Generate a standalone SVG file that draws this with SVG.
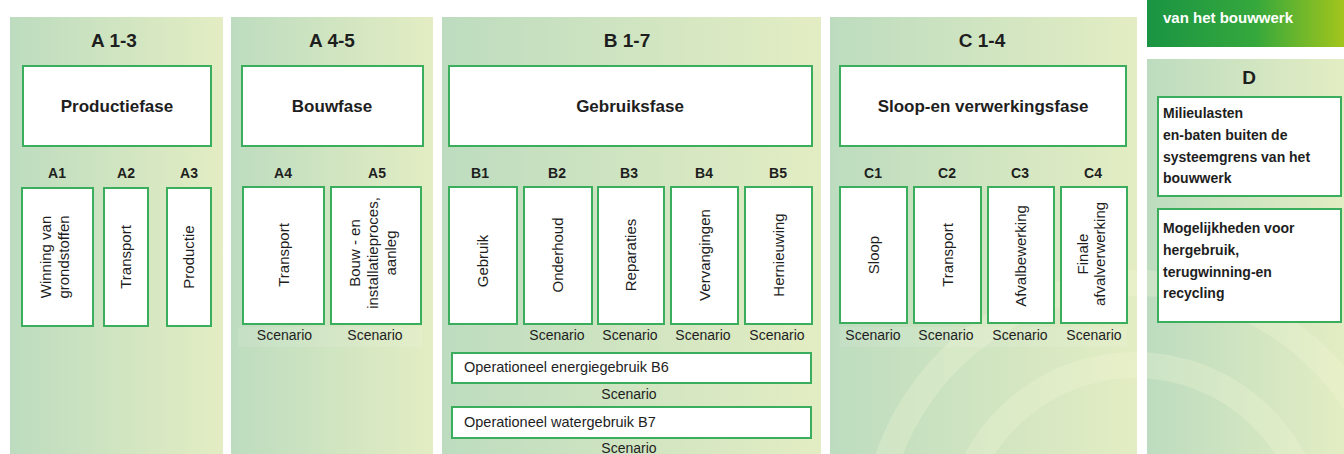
<svg xmlns="http://www.w3.org/2000/svg" width="1344" height="454" viewBox="0 0 1344 454">
<defs>
<linearGradient id="panel" x1="0" y1="0" x2="1" y2="0">
<stop offset="0" stop-color="#bddcbf"/>
<stop offset="1" stop-color="#e3edc3"/>
</linearGradient>
<linearGradient id="banner" x1="0" y1="0" x2="1" y2="0">
<stop offset="0" stop-color="#1a9443"/>
<stop offset="0.55" stop-color="#35a83c"/>
<stop offset="1" stop-color="#a3c51c"/>
</linearGradient>
<clipPath id="wm"><rect x="830" y="17" width="514" height="437"/></clipPath>
</defs>
<style>
.panel{fill:url(#panel)}
.box{fill:#ffffff;stroke:#3aae5c;stroke-width:2}
text{font-family:"Liberation Sans",Arial,sans-serif;fill:#1e1e1e}
.title{font-size:19px;font-weight:bold;text-anchor:middle}
.phase{font-size:17px;font-weight:bold;text-anchor:middle}
.code{font-size:14px;font-weight:bold;text-anchor:middle}
.vert{font-size:15px;text-anchor:middle}
.scen{font-size:14px;text-anchor:middle}
.oper{font-size:14.5px}
.dtext{font-size:14px;font-weight:bold}
.band{fill:#ffffff;opacity:0.1}
</style>

<rect width="1344" height="454" fill="#ffffff"/>

<!-- panels -->
<g id="panel-A13">
<rect class="panel" x="10" y="17" width="213" height="437"/>
<text class="title" x="114" y="47">A 1-3</text>
</g>
<g id="panel-A45">
<rect class="panel" x="231" y="17" width="202" height="437"/>
<text class="title" x="332" y="47">A 4-5</text>
</g>
<g id="panel-B17">
<rect class="panel" x="442" y="17" width="379" height="437"/>
<text class="title" x="627" y="47">B 1-7</text>
</g>
<g id="panel-C14">
<rect class="panel" x="830" y="17" width="307" height="437"/>
<text class="title" x="982" y="47">C 1-4</text>
</g>
<g id="panel-D">
<rect class="panel" x="1147" y="59" width="197" height="395"/>
<text class="title" x="1249" y="84">D</text>
</g>

<!-- faint watermark arcs -->
<g id="watermark" clip-path="url(#wm)" fill="none" stroke="#f4f7d8" stroke-opacity="0.28" stroke-width="26">
<rect x="1137" y="17" width="10" height="437" fill="#ffffff" stroke="none"/>
<circle cx="1135" cy="545" r="262"/>
<circle cx="1135" cy="545" r="180"/>
</g>
<rect x="1137" y="17" width="10" height="437" fill="#ffffff"/>

<!-- banner -->
<g id="banner-top">
<rect x="1147" y="0" width="197" height="47" fill="url(#banner)"/>
<text x="1163" y="23" style="font-size:15px;font-weight:bold;fill:#ffffff">van het bouwwerk</text>
</g>

<!-- faint scenario bands -->
<rect class="band" x="238" y="327" width="184" height="20"/>
<rect class="band" x="840" y="327" width="287" height="20"/>

<!-- phase boxes -->
<g id="productiefase">
<rect class="box" x="23" y="66" width="188" height="80"/>
<text class="phase" x="117" y="112">Productiefase</text>
</g>
<g id="bouwfase">
<rect class="box" x="242" y="66" width="181" height="80"/>
<text class="phase" x="332" y="112">Bouwfase</text>
</g>
<g id="gebruiksfase">
<rect class="box" x="449" y="66" width="363" height="80"/>
<text class="phase" x="630" y="112">Gebruiksfase</text>
</g>
<g id="sloopfase">
<rect class="box" x="840" y="66" width="286" height="80"/>
<text class="phase" x="983" y="112">Sloop-en verwerkingsfase</text>
</g>

<!-- A modules -->
<g id="A1">
<text class="code" x="57" y="178">A1</text>
<rect class="box" x="22" y="188" width="71" height="138"/>
<text class="vert" transform="translate(57.5 257) rotate(-90)"><tspan x="0" y="-7">Winning van</tspan><tspan x="0" y="11">grondstoffen</tspan></text>
</g>
<g id="A2">
<text class="code" x="126" y="178">A2</text>
<rect class="box" x="104" y="188" width="44" height="138"/>
<text class="vert" transform="translate(126 257) rotate(-90)" y="5">Transport</text>
</g>
<g id="A3">
<text class="code" x="189" y="178">A3</text>
<rect class="box" x="167" y="188" width="44" height="138"/>
<text class="vert" transform="translate(189 257) rotate(-90)" y="5">Productie</text>
</g>
<g id="A4">
<text class="code" x="283" y="178">A4</text>
<rect class="box" x="243" y="187" width="81" height="137"/>
<text class="vert" transform="translate(283.5 255) rotate(-90)" y="5">Transport</text>
<text class="scen" x="284.5" y="340">Scenario</text>
</g>
<g id="A5">
<text class="code" x="377" y="178">A5</text>
<rect class="box" x="331" y="187" width="90" height="137"/>
<text class="vert" transform="translate(376 253) rotate(-90)"><tspan x="0" y="-16">Bouw - en</tspan><tspan x="0" y="2">installatieproces,</tspan><tspan x="0" y="20">aanleg</tspan></text>
<text class="scen" x="375" y="340">Scenario</text>
</g>

<!-- B modules -->
<g id="B1">
<text class="code" x="480" y="178">B1</text>
<rect class="box" x="449" y="187" width="68" height="137"/>
<text class="vert" transform="translate(483 261) rotate(-90)" y="5">Gebruik</text>
</g>
<g id="B2">
<text class="code" x="557" y="178">B2</text>
<rect class="box" x="524" y="187" width="68" height="137"/>
<text class="vert" transform="translate(558 255) rotate(-90)" y="5">Onderhoud</text>
<text class="scen" x="557" y="340">Scenario</text>
</g>
<g id="B3">
<text class="code" x="629" y="178">B3</text>
<rect class="box" x="598" y="187" width="66" height="137"/>
<text class="vert" transform="translate(631 255) rotate(-90)" y="5">Reparaties</text>
<text class="scen" x="630" y="340">Scenario</text>
</g>
<g id="B4">
<text class="code" x="704" y="178">B4</text>
<rect class="box" x="671" y="187" width="67" height="137"/>
<text class="vert" transform="translate(704.5 255) rotate(-90)" y="5">Vervangingen</text>
<text class="scen" x="703" y="340">Scenario</text>
</g>
<g id="B5">
<text class="code" x="778" y="178">B5</text>
<rect class="box" x="745" y="187" width="67" height="137"/>
<text class="vert" transform="translate(778.5 255) rotate(-90)" y="5">Hernieuwing</text>
<text class="scen" x="777" y="340">Scenario</text>
</g>
<g id="B6">
<rect class="box" x="452" y="353" width="359" height="30"/>
<text class="oper" x="464" y="372">Operationeel energiegebruik B6</text>
<text class="scen" x="629" y="399">Scenario</text>
</g>
<g id="B7">
<rect class="box" x="452" y="407" width="359" height="31"/>
<text class="oper" x="464" y="427">Operationeel watergebruik B7</text>
<text class="scen" x="629" y="453">Scenario</text>
</g>

<!-- C modules -->
<g id="C1">
<text class="code" x="873" y="178">C1</text>
<rect class="box" x="840" y="187" width="67" height="136"/>
<text class="vert" transform="translate(873.5 255) rotate(-90)" y="5">Sloop</text>
<text class="scen" x="873" y="340">Scenario</text>
</g>
<g id="C2">
<text class="code" x="947" y="178">C2</text>
<rect class="box" x="914" y="187" width="67" height="136"/>
<text class="vert" transform="translate(947.5 255) rotate(-90)" y="5">Transport</text>
<text class="scen" x="946" y="340">Scenario</text>
</g>
<g id="C3">
<text class="code" x="1020" y="178">C3</text>
<rect class="box" x="988" y="187" width="66" height="136"/>
<text class="vert" transform="translate(1021 256) rotate(-90)" y="5">Afvalbewerking</text>
<text class="scen" x="1020" y="340">Scenario</text>
</g>
<g id="C4">
<text class="code" x="1093" y="178">C4</text>
<rect class="box" x="1061" y="187" width="66" height="136"/>
<text class="vert" transform="translate(1094 254) rotate(-90)"><tspan x="0" y="-6">Finale</tspan><tspan x="0" y="11">afvalverwerking</tspan></text>
<text class="scen" x="1094" y="340">Scenario</text>
</g>

<!-- D boxes -->
<g id="D-milieulasten">
<rect class="box" x="1158" y="97" width="183" height="99"/>
<text class="dtext"><tspan x="1163" y="118">Milieulasten</tspan><tspan x="1163" y="140">en-baten buiten de</tspan><tspan x="1163" y="161.5">systeemgrens van het</tspan><tspan x="1163" y="183">bouwwerk</tspan></text>
</g>
<g id="D-mogelijkheden">
<rect class="box" x="1158" y="209" width="183" height="113"/>
<text class="dtext"><tspan x="1163" y="233">Mogelijkheden voor</tspan><tspan x="1163" y="255">hergebruik,</tspan><tspan x="1163" y="276.5">terugwinning-en</tspan><tspan x="1163" y="298">recycling</tspan></text>
</g>

<g id="connectors"/>
</svg>
